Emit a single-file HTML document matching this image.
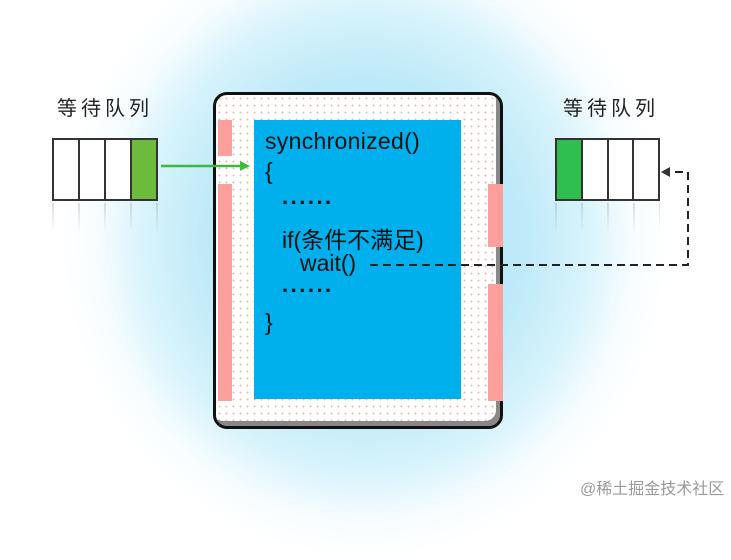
<!DOCTYPE html>
<html><head><meta charset="utf-8"><style>
*{margin:0;padding:0}
html,body{width:731px;height:508px}
body{position:relative;overflow:hidden;background:#fff;font-family:"Liberation Sans","Noto Sans CJK SC",sans-serif}
.glow{position:absolute;left:60px;top:-80px;width:610px;height:640px;background:radial-gradient(ellipse 50% 50% at 50% 50%,#b8e7f7 0%,#bde9f8 50%,rgba(205,240,251,.8) 72%,rgba(235,249,254,.4) 88%,rgba(255,255,255,0) 100%)}
.a{position:absolute}
.lbl{font-size:20px;letter-spacing:4px;color:#222}
.q{position:absolute;top:138px;height:63px;display:flex;border:2px solid #333;box-sizing:border-box}
.q div{width:26px;border-right:2px solid #333;background:#fff}
.q div:last-child{border-right:none}
.code{position:absolute;font-size:23px;color:#111;white-space:nowrap}
.dots{position:absolute;font-size:22px;font-weight:bold;letter-spacing:2.5px;color:#111}
</style></head><body>
<div class="glow"></div>
<div class="a lbl" style="left:57px;top:92px">等待队列</div>
<div class="a lbl" style="left:563px;top:92px">等待队列</div>
<div class="q" style="left:52px;width:106px"><div></div><div></div><div></div><div style="background:#6dbb3c"></div></div>
<div class="q" style="left:555px;width:105px"><div style="background:#2fbf4f"></div><div></div><div></div><div></div></div>
<div class="a" style="left:52px;top:203px;width:106px;height:30px;background:repeating-linear-gradient(90deg,rgba(120,120,120,.25) 0 2px,transparent 2px 26px);-webkit-mask:linear-gradient(#000,transparent)"></div>
<div class="a" style="left:555px;top:203px;width:105px;height:30px;background:repeating-linear-gradient(90deg,rgba(120,120,120,.25) 0 2px,transparent 2px 26px);-webkit-mask:linear-gradient(#000,transparent)"></div>
<div class="a" style="left:213px;top:92px;width:290px;height:337px;border:3px solid #111;border-radius:14px;box-sizing:border-box;background-color:#fff;background-image:radial-gradient(#f3b0b0 0.8px,transparent 1px);background-size:7px 7px;box-shadow:inset -4px -5px 0 #888"></div>
<div class="a" style="left:218px;top:120px;width:14px;height:36px;background:#fd9f9b"></div>
<div class="a" style="left:218px;top:184px;width:14px;height:217px;background:#fd9f9b"></div>
<div class="a" style="left:488px;top:184px;width:15px;height:63px;background:#fd9f9b"></div>
<div class="a" style="left:488px;top:284px;width:15px;height:117px;background:#fd9f9b"></div>
<div class="a" style="left:254px;top:120px;width:207px;height:279px;background:#00b0ed"></div>
<div class="code" style="left:265px;top:128px;letter-spacing:0.3px">synchronized()</div>
<div class="code" style="left:265px;top:158px">{</div>
<div class="dots" style="left:282px;top:184px">......</div>
<div class="code" style="left:282px;top:221px">if(条件不满足)</div>
<div class="code" style="left:300px;top:250px">wait()</div>
<div class="dots" style="left:282px;top:272px">......</div>
<div class="code" style="left:265px;top:309px">}</div>
<svg class="a" style="left:0;top:0" width="731" height="508">
<line x1="161" y1="166" x2="242" y2="166" stroke="#3cba3c" stroke-width="2.5"/>
<polygon points="250,166 240,161 240,171" fill="#3cba3c"/>
<polyline points="370,265 688,265 688,172 670,172" fill="none" stroke="#222" stroke-width="2" stroke-dasharray="8,5"/>
<polygon points="661,172 670,167 670,177" fill="#333"/>
</svg>
<div class="a" style="left:580px;top:475px;font-size:16px;color:#9a9a9a">@稀土掘金技术社区</div>
</body></html>
